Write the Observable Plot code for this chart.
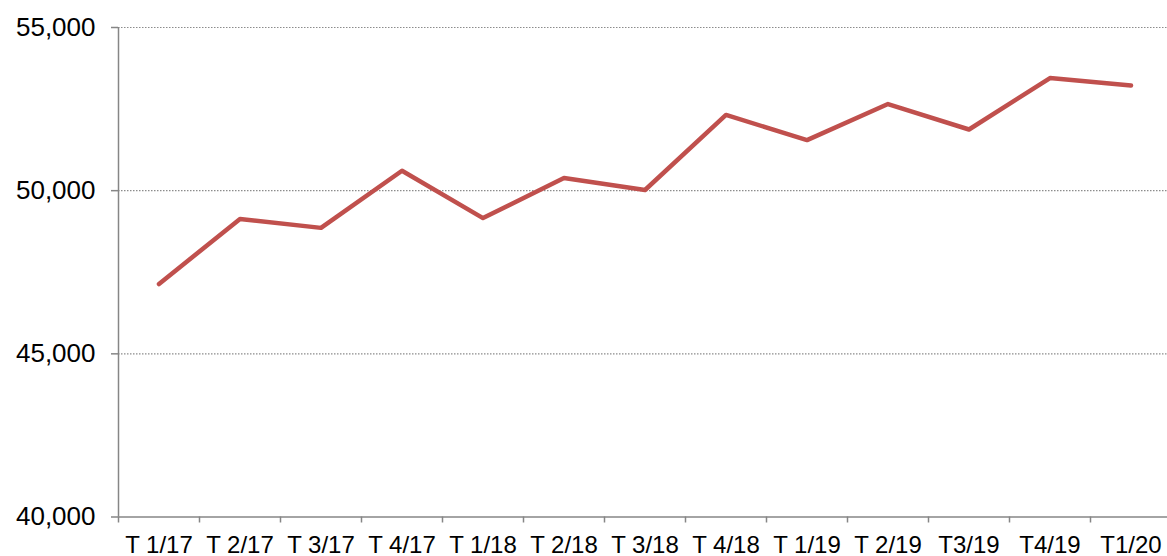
<!DOCTYPE html>
<html><head><meta charset="utf-8">
<script src="https://cdn.jsdelivr.net/npm/d3@7"></script>
<script src="https://cdn.jsdelivr.net/npm/@observablehq/plot@0.6"></script>
<style>html,body{margin:0;padding:0;background:#fff;overflow:hidden}</style>
</head><body><div id="chart"></div>
<script>
const quarters = ["T 1/17","T 2/17","T 3/17","T 4/17","T 1/18","T 2/18","T 3/18","T 4/18","T 1/19","T 2/19","T3/19","T4/19","T1/20"];
const values = [47140,49135,48860,50610,49160,50390,50020,52320,51550,52655,51875,53450,53225];
const yTicks = [40000,45000,50000,55000];
const gridTicks = [45000,50000,55000];

const data = quarters.map((q,i)=>({i, q, v: values[i]}));
const idx = d3.range(quarters.length);
const bounds = d3.range(-0.5, quarters.length, 1);

const chart = Plot.plot({
  width:1167, height:556,
  marginLeft:118, marginRight:-4, marginTop:27, marginBottom:39.5,
  style:{fontFamily:"'Liberation Sans', Arial, sans-serif", background:"#fff", color:"#000"},
  x:{type:"linear", domain:[-0.5, quarters.length-0.5]},
  y:{domain:[40000,55000]},
  marks:[
    Plot.gridY(gridTicks, {stroke:"#8c8c8c", strokeOpacity:1, strokeWidth:1.2, strokeDasharray:"1.5,1.5"}),
    Plot.ruleX([-0.5], {stroke:"#868686", strokeWidth:1.5}),
    Plot.ruleY([40000], {stroke:"#868686", strokeWidth:1.5}),
    Plot.axisY(yTicks, {tickSize:7, tickPadding:16, tickFormat:d3.format(","), fontSize:26, stroke:"#868686", strokeWidth:1.5, fill:"#000", label:null}),
    Plot.axisX(bounds, {tickSize:6, tickFormat:()=>"", stroke:"#868686", strokeWidth:1.5, label:null}),
    Plot.axisX(idx, {tickSize:0, tickPadding:19, tickFormat:i=>quarters[i], fontSize:24, fill:"#000", label:null}),
    Plot.line(data, {x:"i", y:"v", stroke:"#c0504d", strokeWidth:4.5, strokeLinejoin:"round", strokeLinecap:"round"})
  ]
});
document.getElementById("chart").appendChild(chart);
</script>
</body></html>
